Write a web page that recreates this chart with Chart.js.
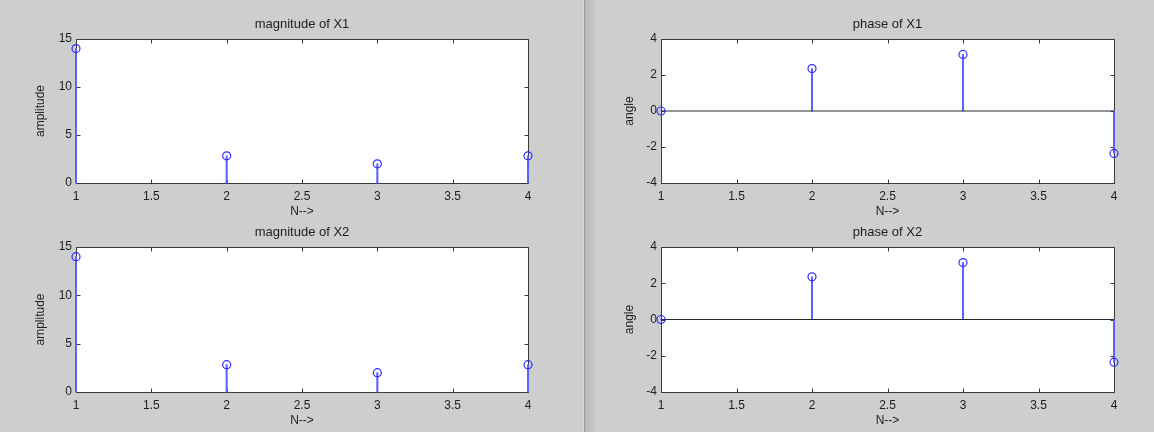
<!DOCTYPE html>
<html>
<head>
<meta charset="utf-8">
<script src="https://cdn.jsdelivr.net/npm/chart.js@4.4.1/dist/chart.umd.min.js"></script>
<style>
  html, body { margin: 0; padding: 0; }
  body { width: 1154px; height: 432px; overflow: hidden; position: relative; background: #cecece; }
  canvas { position: absolute; }
  .edge-light { position: absolute; left: 583px; top: 0; width: 1px; height: 432px; background: #dadada; }
  .edge-dark  { position: absolute; left: 584px; top: 0; width: 1px; height: 432px; background: #9c9c9c; }
  .edge-shade { position: absolute; left: 585px; top: 0; width: 12px; height: 432px;
                background: linear-gradient(to right, #b6b6b6, #cecece); }
</style>
</head>
<body>
<div class="edge-light"></div>
<div class="edge-dark"></div>
<div class="edge-shade"></div>
<canvas id="magX1"></canvas>
<canvas id="magX2"></canvas>
<canvas id="phaseX1"></canvas>
<canvas id="phaseX2"></canvas>
<script>
// Sample index and DFT results of x = [2 3 4 5]
const nIndex  = [1, 2, 3, 4];
const magX1   = [14, 2.828, 2, 2.828];
const magX2   = [14, 2.828, 2, 2.828];
const phaseX1 = [0, 2.356, 3.1416, -2.356];
const phaseX2 = [0, 2.356, 3.1416, -2.356];

// Tick labels
const nTicks     = [1, 1.5, 2, 2.5, 3, 3.5, 4];
const magTicks   = [0, 5, 10, 15];
const phaseTicks = [-4, -2, 0, 2, 4];

// Axes placement on the page: [left, top, right, bottom] of each plot box
const layoutBoxes = {
  magX1:   [76, 39, 528, 183],
  magX2:   [76, 247, 528, 392],
  phaseX1: [661, 39, 1114, 183],
  phaseX2: [661, 247, 1114, 392]
};

const PAD_L = 70, PAD_R = 30, PAD_T = 30, PAD_B = 45;
const FONT = "'Liberation Sans', Arial, sans-serif";
const TEXT = '#1e1e1e';
const STEM = 'rgb(95,95,255)';
const MARK = 'rgb(45,45,255)';
const FRAME = '#3a3a3a';

// Box frame with inward ticks on all four sides
const framePlugin = {
  id: 'frame',
  beforeDatasetsDraw(chart) {
    const { ctx, chartArea: a, scales } = chart;
    const l = Math.round(a.left) + 0.5, r = Math.round(a.right) + 0.5;
    const t = Math.round(a.top) + 0.5, b = Math.round(a.bottom) + 0.5;
    ctx.save();
    ctx.strokeStyle = FRAME;
    ctx.lineWidth = 1;
    ctx.strokeRect(l, t, r - l, b - t);
    const len = 4;
    ctx.beginPath();
    scales.x.ticks.forEach(tk => {
      const px = Math.round(scales.x.getPixelForValue(tk.value)) + 0.5;
      ctx.moveTo(px, b); ctx.lineTo(px, b - len);
      ctx.moveTo(px, t); ctx.lineTo(px, t + len);
    });
    scales.y.ticks.forEach(tk => {
      const py = Math.round(scales.y.getPixelForValue(tk.value)) + 0.5;
      ctx.moveTo(l, py); ctx.lineTo(l + len, py);
      ctx.moveTo(r, py); ctx.lineTo(r - len, py);
    });
    ctx.stroke();
    ctx.restore();
  }
};

// White plot background
const backPlugin = {
  id: 'back',
  beforeDraw(chart) {
    const { ctx, chartArea: a } = chart;
    ctx.save();
    ctx.fillStyle = '#ffffff';
    ctx.fillRect(a.left, a.top, a.right - a.left, a.bottom - a.top);
    ctx.restore();
  }
};

function stemPlot(id, title, yLabel, values, yTicks, withBaseline, labelGap) {
  const [L, T, R, B] = layoutBoxes[id];
  const cv = document.getElementById(id);
  const w = R - L + PAD_L + PAD_R, h = B - T + PAD_T + PAD_B;
  cv.width = w; cv.height = h;
  cv.style.width = w + 'px'; cv.style.height = h + 'px';
  cv.style.left = (L - PAD_L) + 'px'; cv.style.top = (T - PAD_T) + 'px';

  const pts = nIndex.map((n, i) => ({ x: n, y: values[i] }));
  const datasets = [
    {
      type: 'bar', data: pts, backgroundColor: STEM, borderWidth: 0,
      barThickness: 1.4, grouped: false, clip: false, order: 2
    },
    {
      type: 'scatter', data: pts, pointStyle: 'circle', pointRadius: 4,
      pointBorderWidth: 1.2, pointBorderColor: MARK,
      pointBackgroundColor: 'rgba(0,0,0,0)', showLine: false, clip: false, order: 0
    }
  ];
  if (withBaseline) {
    datasets.push({
      type: 'line',
      data: [{ x: nIndex[0], y: 0 }, { x: nIndex[nIndex.length - 1], y: 0 }],
      borderColor: '#2a2a2a', borderWidth: 1, pointRadius: 0, clip: false, order: 1
    });
  }

  const tickFont = { family: FONT, size: 12 };
  new Chart(cv, {
    type: 'scatter',
    data: { datasets },
    plugins: [backPlugin, framePlugin],
    options: {
      responsive: false,
      animation: false,
      events: [],
      layout: { padding: { left: 0, right: PAD_R, top: 0, bottom: 0 } },
      plugins: {
        legend: { display: false },
        tooltip: { enabled: false },
        title: {
          display: true, text: title, fullSize: false, color: TEXT,
          font: { family: FONT, size: 13, weight: 'normal', lineHeight: 1.2 },
          padding: { top: 7.7, bottom: 6.7 }
        }
      },
      scales: {
        x: {
          type: 'linear', min: nIndex[0], max: nIndex[nIndex.length - 1], offset: false,
          grid: { display: false, drawTicks: false },
          border: { display: false },
          afterBuildTicks: s => { s.ticks = nTicks.map(v => ({ value: v })); },
          afterFit: s => { s.height = PAD_B; },
          ticks: {
            autoSkip: false, maxRotation: 0, minRotation: 0, padding: 6,
            color: TEXT, font: tickFont, callback: v => String(v)
          },
          title: {
            display: true, text: 'N-->', color: TEXT,
            font: { family: FONT, size: 12, lineHeight: 1.2 },
            padding: { top: 0, bottom: 8.8 }
          }
        },
        y: {
          type: 'linear', min: yTicks[0], max: yTicks[yTicks.length - 1],
          grid: { display: false, drawTicks: false },
          border: { display: false },
          afterBuildTicks: s => { s.ticks = yTicks.map(v => ({ value: v })); },
          afterFit: s => { s.width = PAD_L; },
          ticks: { padding: 4, color: TEXT, font: tickFont, callback: v => String(v) },
          title: {
            display: true, text: yLabel, color: TEXT,
            font: { family: FONT, size: 12, lineHeight: 1.2 },
            padding: { top: PAD_L - labelGap - 7.2, bottom: 0 }
          }
        }
      }
    }
  });
}

stemPlot('magX1', 'magnitude of X1', 'amplitude', magX1, magTicks, false, 35);
stemPlot('magX2', 'magnitude of X2', 'amplitude', magX2, magTicks, false, 35);
stemPlot('phaseX1', 'phase of X1', 'angle', phaseX1, phaseTicks, true, 31);
stemPlot('phaseX2', 'phase of X2', 'angle', phaseX2, phaseTicks, true, 31);
</script>
</body>
</html>
